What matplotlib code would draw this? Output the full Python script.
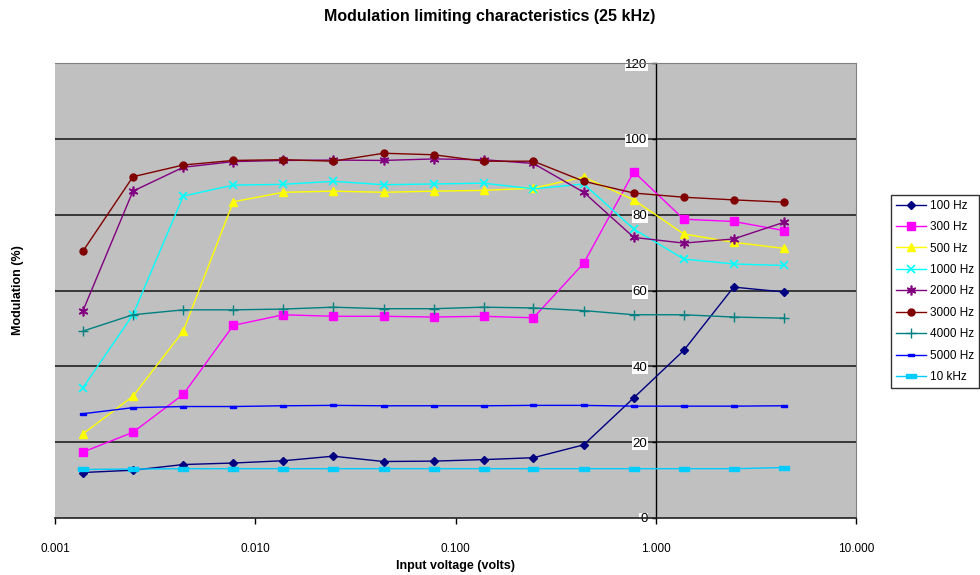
import matplotlib
matplotlib.use("Agg")
import matplotlib.pyplot as plt
from matplotlib.ticker import FixedLocator, FixedFormatter, NullLocator

plt.rcParams['font.family'] = ['Liberation Sans', 'DejaVu Sans']

# ---- data ----
voltage = [0.00138, 0.00245, 0.00437, 0.00777, 0.0138, 0.0245, 0.0437, 0.0777,
           0.138, 0.245, 0.437, 0.777, 1.38, 2.45, 4.37]

hz100 = [12.0, 12.6, 14.1, 14.5, 15.1, 16.3, 14.9, 15.0, 15.4, 15.9, 19.3, 31.7, 44.2, 60.9, 59.6]
hz300 = [17.4, 22.6, 32.6, 50.8, 53.6, 53.2, 53.2, 53.0, 53.2, 52.8, 67.2, 91.3, 78.8, 78.2, 75.8]
hz500 = [22.2, 32.1, 49.3, 83.4, 85.9, 86.2, 85.9, 86.2, 86.4, 87.0, 89.9, 83.9, 74.9, 72.7, 71.1]
hz1000 = [34.4, 53.6, 84.9, 87.8, 88.0, 88.8, 87.9, 88.1, 88.3, 86.8, 88.1, 76.2, 68.3, 67.0, 66.6]
hz2000 = [54.7, 86.2, 92.5, 94.0, 94.3, 94.4, 94.3, 94.7, 94.5, 93.5, 85.9, 74.0, 72.5, 73.6, 78.0]
hz3000 = [70.4, 90.0, 93.1, 94.3, 94.5, 94.1, 96.2, 95.8, 94.1, 94.1, 88.8, 85.7, 84.6, 83.9, 83.3]
hz4000 = [49.3, 53.6, 54.9, 54.9, 55.1, 55.6, 55.2, 55.2, 55.6, 55.4, 54.7, 53.6, 53.6, 53.0, 52.7]
hz5000 = [27.5, 29.1, 29.4, 29.4, 29.6, 29.7, 29.6, 29.6, 29.6, 29.7, 29.7, 29.5, 29.5, 29.5, 29.6]
khz10 = [12.8, 12.9, 13.0, 13.0, 13.0, 13.0, 13.0, 13.0, 13.0, 13.0, 13.0, 13.0, 13.0, 13.0, 13.3]

labels = ['100 Hz', '300 Hz', '500 Hz', '1000 Hz', '2000 Hz', '3000 Hz', '4000 Hz', '5000 Hz', '10 kHz']
x_ticks = [0.001, 0.01, 0.1, 1, 10]
x_ticklabels = ['0.001', '0.010', '0.100', '1.000', '10.000']
y_ticks = [0, 20, 40, 60, 80, 100, 120]

series = [hz100, hz300, hz500, hz1000, hz2000, hz3000, hz4000, hz5000, khz10]

dash = [(-1, -0.35), (1, -0.35), (1, 0.35), (-1, 0.35), (-1, -0.35)]
styles = [
    dict(color='#000080', marker='D', ms=4.5),
    dict(color='#FF00FF', marker='s', ms=5.5),
    dict(color='#FFFF00', marker='^', ms=6),
    dict(color='#00FFFF', marker='x', ms=6, mew=1.2),
    dict(color='#800080', marker=(6, 2, 0), ms=7, mew=1.2),
    dict(color='#800000', marker='o', ms=5),
    dict(color='#008080', marker='+', ms=7, mew=1.0),
    dict(color='#0000FF', marker=dash, ms=5),
    dict(color='#00CCFF', marker=dash, ms=7),
]

fig = plt.figure(figsize=(9.8, 5.75), dpi=100)
ax = fig.add_axes([55/980, 1-518/575, (856-55)/980, (518-63)/575])
ax.set_facecolor('#C0C0C0')

for ys, lab, st in zip(series, labels, styles):
    ax.plot(voltage, ys, label=lab, lw=1.0, color=st['color'], marker=st['marker'],
            ms=st['ms'], mew=st.get('mew', 1.0), mfc=st['color'], mec=st['color'],
            zorder=3)

ax.set_xscale('log')
ax.set_xlim(0.001, 10)
ax.set_ylim(0, 120)

ax.xaxis.set_major_locator(FixedLocator(x_ticks))
ax.xaxis.set_major_formatter(FixedFormatter(x_ticklabels))
ax.xaxis.set_minor_locator(NullLocator())
ax.set_yticks(y_ticks)

for y in y_ticks[1:-1]:
    ax.axhline(y, color='#202020', lw=1.2, zorder=1)

ax.spines['left'].set_position(('data', 1))
ax.spines['left'].set_color('black')
ax.spines['left'].set_linewidth(1.0)
ax.spines['left'].set_zorder(2)
ax.spines['bottom'].set_color('#202020')
ax.spines['bottom'].set_linewidth(1.2)
ax.spines['top'].set_color('#808080')
ax.spines['right'].set_color('#808080')

ax.tick_params(axis='x', direction='out', length=4, width=1, labelsize=8.5, pad=14)
ax.tick_params(axis='y', direction='out', length=3, width=1, labelsize=9.5, pad=3)
for t in ax.get_yticklabels():
    t.set_bbox(dict(facecolor='white', edgecolor='none', pad=0.5))

fig.text(455/980, 1-566/575, 'Input voltage (volts)', fontsize=9,
         fontweight='bold', ha='center', va='center')
fig.text(18/980, 1-290/575, 'Modulation (%)', rotation=90, fontsize=9,
         fontweight='bold', ha='center', va='center')
fig.text(490/980, 1-17/575, 'Modulation limiting characteristics (25 kHz)',
         fontsize=11.5, fontweight='bold', ha='center', va='center')

leg = fig.legend(loc='upper left', bbox_to_anchor=(891/980, 1-195/575),
                 fontsize=8.5, frameon=True, fancybox=False, edgecolor='black',
                 handlelength=2.6, labelspacing=0.8, borderaxespad=0,
                 borderpad=0.4, handletextpad=0.3)
leg.get_frame().set_linewidth(1.0)

fig.savefig('out.png', dpi=100)
